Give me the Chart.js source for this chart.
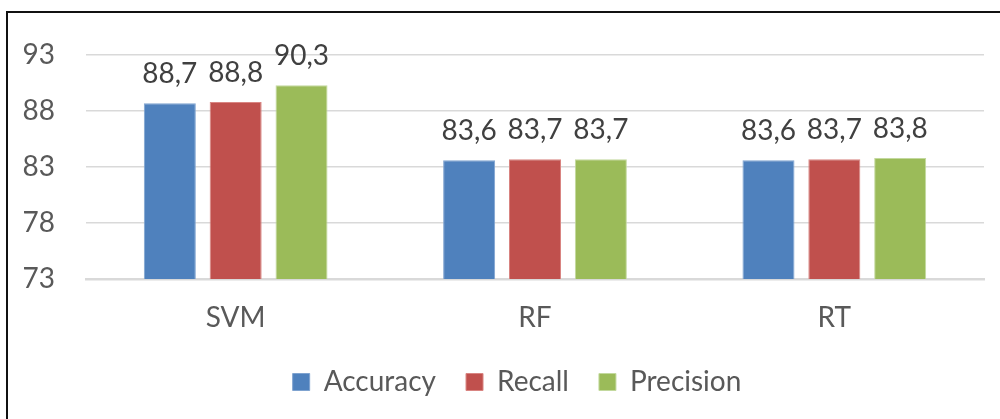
<!DOCTYPE html>
<html>
<head>
<meta charset="utf-8">
<script src="https://cdn.jsdelivr.net/npm/chart.js@4"></script>
<style>
  html, body { margin: 0; padding: 0; background: #fff; }
  #wrap { position: relative; width: 1000px; height: 419px; overflow: hidden; }
  #frame { position: absolute; left: 6px; top: 11px; width: 1000px; height: 440px;
           border-top: 2px solid #111; border-left: 2px solid #111; pointer-events: none; }
</style>
</head>
<body>
<div id="wrap">
  <canvas id="chart" width="1000" height="440"></canvas>
  <div id="frame"></div>
</div>
<script>
// données
const categories = ['SVM', 'RF', 'RT'];
const accuracy = [88.7, 83.6, 83.6];
const recall = [88.8, 83.7, 83.7];
const precision = [90.3, 83.7, 83.8];
const yTicks = [73, 78, 83, 88, 93];

const BLUE = '#4F81BD';
const RED = '#C0504D';
const GREEN = '#9BBB59';
const FONT = 'Lato, "Open Sans", sans-serif';

// étiquettes de valeur au-dessus des barres (virgule décimale)
const valueLabels = {
    id: 'valueLabels',
    afterDatasetsDraw(chart) {
        const ctx = chart.ctx;
        ctx.save();
        ctx.font = '28px ' + FONT;
        ctx.fillStyle = '#404040';
        ctx.textAlign = 'center';
        ctx.textBaseline = 'alphabetic';
        chart.data.datasets.forEach((ds, i) => {
            chart.getDatasetMeta(i).data.forEach((bar, j) => {
                const txt = ds.data[j].toFixed(1).replace('.', ',');
                ctx.fillText(txt, bar.x, bar.y - 20);
            });
        });
        ctx.restore();
    }
};

// légende centrée sur la zone du graphique comme dans Excel
const legendShift = {
    id: 'legendShift',
    afterLayout(chart) {
        const lg = chart.legend;
        if (!lg) return;
        lg.left += 15;
        lg.right += 15;
    }
};

const ctx = document.getElementById('chart').getContext('2d');
new Chart(ctx, {
    type: 'bar',
    data: {
        labels: categories,
        datasets: [
            { label: 'Accuracy', data: accuracy, backgroundColor: BLUE, borderColor: '#7FA3D0', borderWidth: 1 },
            { label: 'Recall', data: recall, backgroundColor: RED, borderColor: '#D98582', borderWidth: 1 },
            { label: 'Precision', data: precision, backgroundColor: GREEN, borderColor: '#C3D99E', borderWidth: 1 }
        ]
    },
    options: {
        responsive: false,
        animation: false,
        layout: { padding: { top: 55, left: 20, right: 16, bottom: 34 } },
        datasets: { bar: { categoryPercentage: 0.66, barPercentage: 0.79 } },
        plugins: {
            legend: {
                position: 'bottom',
                labels: {
                    font: { family: FONT, size: 28 },
                    color: '#595959',
                    boxWidth: 17,
                    boxHeight: 17,
                    padding: 30
                }
            },
            tooltip: { enabled: false }
        },
        scales: {
            x: {
                afterFit(axis) { axis.height = 59; },
                grid: { display: false, drawTicks: false },
                border: { color: '#D9D9D9', width: 2.5 },
                ticks: { font: { family: FONT, size: 28, lineHeight: 1 }, color: '#595959', padding: 25 }
            },
            y: {
                min: 73,
                max: 93,
                afterBuildTicks(axis) { axis.ticks = yTicks.map(v => ({ value: v })); },
                afterFit(axis) { axis.width = 66; },
                grid: { color: '#D9D9D9', lineWidth: 1.5, drawTicks: false },
                border: { display: false },
                ticks: { font: { family: FONT, size: 28 }, color: '#595959', padding: 31 }
            }
        }
    },
    plugins: [valueLabels, legendShift]
});
</script>
</body>
</html>
